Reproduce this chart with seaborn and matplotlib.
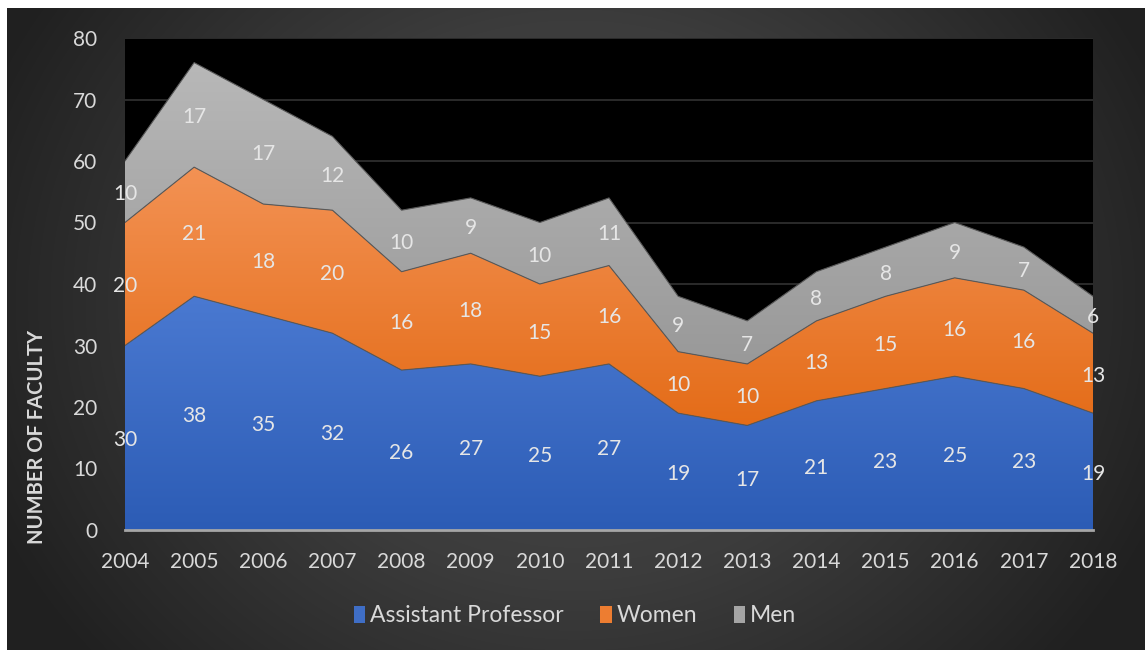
import numpy as np
import pandas as pd
import matplotlib
matplotlib.use('Agg')
import matplotlib.pyplot as plt
from matplotlib.colors import LinearSegmentedColormap
from matplotlib.patches import Patch
import seaborn as sns

# data
years = [2004, 2005, 2006, 2007, 2008, 2009, 2010, 2011, 2012, 2013, 2014, 2015, 2016, 2017, 2018]
assistant = [30, 38, 35, 32, 26, 27, 25, 27, 19, 17, 21, 23, 25, 23, 19]
women = [20, 21, 18, 20, 16, 18, 15, 16, 10, 10, 13, 15, 16, 16, 13]
men = [10, 17, 17, 12, 10, 9, 10, 11, 9, 7, 8, 8, 9, 7, 6]
series_names = ['Assistant Professor', 'Women', 'Men']

sns.set_style('dark')
plt.rcParams['font.family'] = ['Lato', 'DejaVu Sans']

W, H = 1145, 650
fig = plt.figure(figsize=(W / 100, H / 100), dpi=100)
fig.patch.set_facecolor('white')

# dark radial background panel
bg = fig.add_axes([0, 0, 1, 1])
bg.set_xlim(0, W)
bg.set_ylim(H, 0)
bg.axis('off')
gx, gy = np.meshgrid(np.arange(7, W), np.arange(8, H))
r = np.sqrt(((gx - 575) / 640.0) ** 2 + ((gy - 300) / 560.0) ** 2)
r = np.clip(r, 0, 1)
bg_cmap = LinearSegmentedColormap.from_list('bg', ['#4d4d4d', '#3c3c3c', '#202020'])
bg.imshow(r, cmap=bg_cmap, extent=[7, W, H, 8], aspect='auto', vmin=0, vmax=1)

ax = fig.add_axes([125 / W, 120 / H, (1093 - 125) / W, (530 - 38) / H])
ax.set_facecolor('black')

x = np.array(years, dtype=float)
b0 = np.zeros(len(years))
b1 = b0 + np.array(assistant)
b2 = b1 + np.array(women)
b3 = b2 + np.array(men)

fills = [
    (b0, b1, '#4a79d1', '#2c5cb5'),
    (b1, b2, '#f39254', '#e46c18'),
    (b2, b3, '#b8b8b8', '#999999'),
]
for lo, hi, ctop, cbot in fills:
    poly = ax.fill_between(x, lo, hi, color='none', lw=0)
    cmap = LinearSegmentedColormap.from_list('g', [cbot, ctop])
    img = ax.imshow(np.linspace(0, 1, 256).reshape(-1, 1), cmap=cmap, origin='lower',
                    aspect='auto', extent=[x[0], x[-1], lo.min(), hi.max()], zorder=2)
    img.set_clip_path(poly.get_paths()[0], transform=ax.transData)

# thin outlines on the top of each band
long = pd.DataFrame({'year': years * 3,
                     'val': np.concatenate([b1, b2, b3]),
                     'grp': ['a'] * 15 + ['b'] * 15 + ['c'] * 15})
sns.lineplot(data=long, x='year', y='val', units='grp', estimator=None,
             color='#595959', lw=0.8, ax=ax, zorder=3)

# data labels in the middle of each band
for lo, hi, vals in [(b0, b1, assistant), (b1, b2, women), (b2, b3, men)]:
    for xi, l, h, v in zip(x, lo, hi, vals):
        ax.text(xi, (l + h) / 2 - 0.4, str(v), ha='center', va='center', color='#e6e6e6',
                fontsize=15, zorder=5)

ax.set_xlim(years[0], years[-1])
ax.set_ylim(0, 80)
ax.set_yticks(range(0, 81, 10))
ax.set_xticks(years)
ax.grid(axis='y', color='#2e2e2e', lw=1.3, zorder=0)
ax.grid(axis='x', visible=False)
ax.set_axisbelow(True)
for s in ['left', 'right', 'top']:
    ax.spines[s].set_visible(False)
ax.spines['bottom'].set_color('#a6a6a6')
ax.spines['bottom'].set_linewidth(2)
ax.spines['bottom'].set_zorder(6)
ax.tick_params(axis='x', colors='#d9d9d9', labelsize=15, length=6, width=1.5,
               direction='out', pad=10, color='#a6a6a6')
ax.tick_params(axis='y', colors='#d9d9d9', labelsize=15, length=0, pad=20)
ax.set_xlabel('')
ax.set_ylabel('')

fig.text(37 / W, 1 - 437 / H, 'NUMBER OF FACULTY', rotation=90, ha='center', va='center',
         color='#d9d9d9', fontsize=14.5, fontweight='bold')

handles = [Patch(facecolor=c, edgecolor='none') for c in ['#3f6ec6', '#ed7d31', '#a5a5a5']]
leg = fig.legend(handles, series_names, loc='center', bbox_to_anchor=(575 / W, 1 - 616 / H),
                 ncol=3, frameon=False, fontsize=16.5, handlelength=0.5, handleheight=0.8,
                 handletextpad=0.2, columnspacing=1.6)
for t in leg.get_texts():
    t.set_color('#d9d9d9')

fig.savefig('out.png', dpi=100, facecolor=fig.get_facecolor())
